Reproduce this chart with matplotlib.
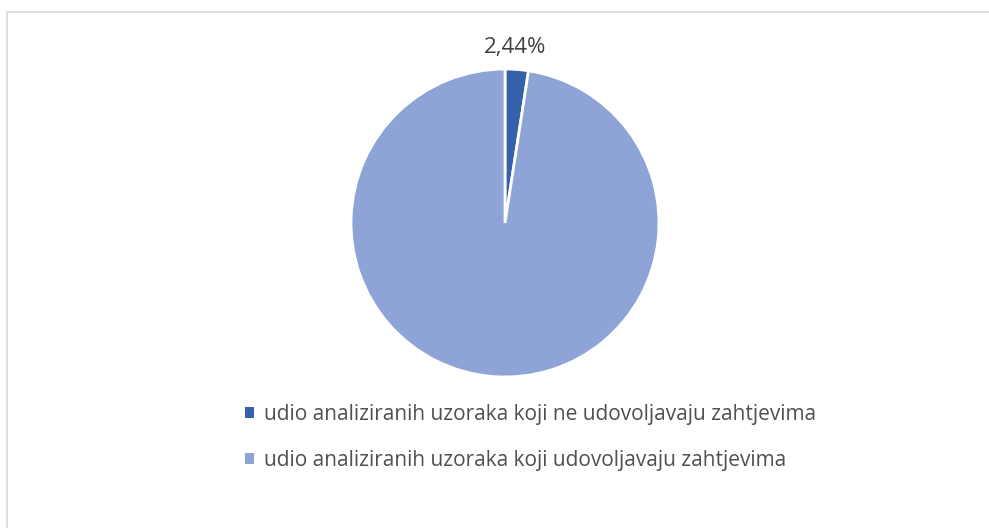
import matplotlib.pyplot as plt
from matplotlib.patches import Rectangle

labels = ['udio analiziranih uzoraka koji ne udovoljavaju zahtjevima',
          'udio analiziranih uzoraka koji udovoljavaju zahtjevima']
values = [2.44, 97.56]
colors = ['#3461AA', '#8FA4D6']

plt.rcParams['font.family'] = ['Open Sans', 'DejaVu Sans']

W, H = 989, 528
fig = plt.figure(figsize=(W / 100, H / 100), dpi=100)

# light grey frame (only top/left visible in the original)
fig.patches.append(Rectangle((7 / W, -0.05), 1.2, (H - 12) / H + 0.05,
                             transform=fig.transFigure, fill=False,
                             edgecolor='#D9D9D9', linewidth=1.2))

cx, cy, r = 505, 223, 154
ax = fig.add_axes([(cx - r) / W, (H - cy - r) / H, 2 * r / W, 2 * r / H])
wedges, _ = ax.pie(values, colors=colors, startangle=90, counterclock=False,
                   wedgeprops=dict(edgecolor='white', linewidth=2))
ax.set_xlim(-1, 1)
ax.set_ylim(-1, 1)

fig.text(515 / W, 1 - 48 / H, f'{values[0]:.2f}%'.replace('.', ','), ha='center', va='center',
         fontsize=16, color='#404040')

leg = fig.legend(wedges, labels, loc='upper left', bbox_to_anchor=(226 / W, 1 - 385 / H),
                 frameon=False, fontsize=15, handlelength=0.45, handleheight=0.45,
                 handletextpad=0.45, labelspacing=1.2, labelcolor='#505050')
for h in leg.legend_handles:
    h.set_edgecolor('none')

fig.savefig('out.png', dpi=100)
